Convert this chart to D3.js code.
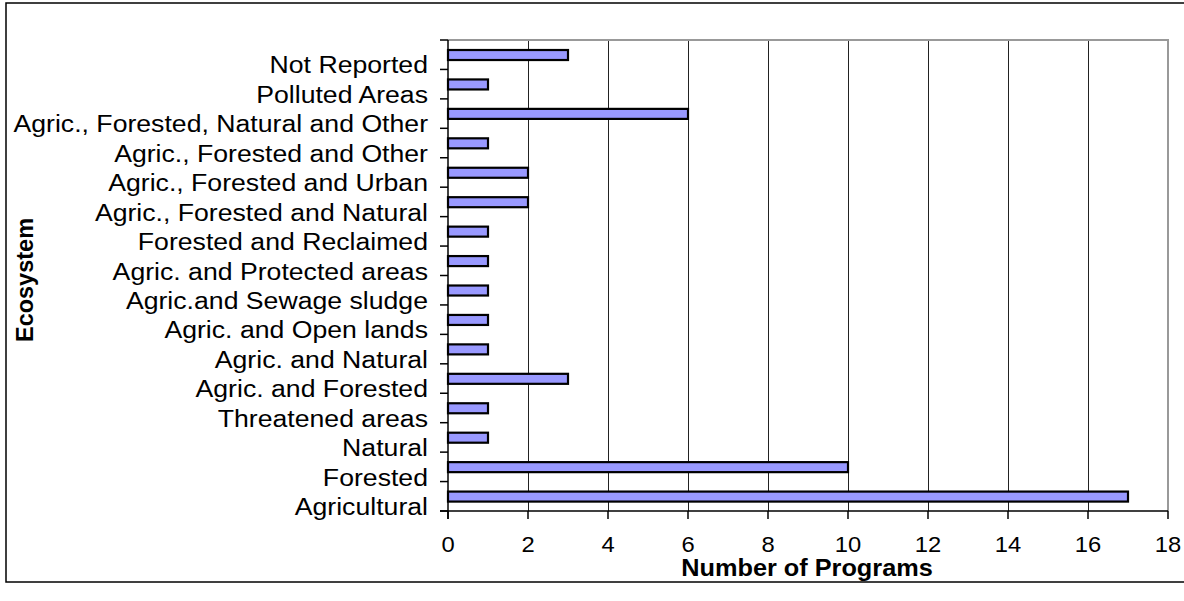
<!DOCTYPE html>
<html>
<head>
<meta charset="utf-8">
<script src="https://cdn.jsdelivr.net/npm/d3@7/dist/d3.min.js"></script>
<style>
  html, body { margin: 0; padding: 0; background: #fff; }
  svg { display: block; font-family: "Liberation Sans", Arial, sans-serif; }
</style>
</head>
<body>
<svg id="chart" width="1184" height="601"></svg>
<script>
const categories = [
  "Not Reported",
  "Polluted Areas",
  "Agric., Forested, Natural and Other",
  "Agric., Forested and Other",
  "Agric., Forested and Urban",
  "Agric., Forested and Natural",
  "Forested and Reclaimed",
  "Agric. and Protected areas",
  "Agric.and Sewage sludge",
  "Agric. and Open lands",
  "Agric. and Natural",
  "Agric. and Forested",
  "Threatened areas",
  "Natural",
  "Forested",
  "Agricultural"
];
const values = [3, 1, 6, 1, 2, 2, 1, 1, 1, 1, 1, 3, 1, 1, 10, 17];
const xTicks = [0, 2, 4, 6, 8, 10, 12, 14, 16, 18];
const xTitle = "Number of Programs";
const yTitle = "Ecosystem";

const svg = d3.select("#chart");
const L = 448, R = 1168, T = 40, B = 511;

// outer frame
svg.append("rect").attr("x", 6).attr("y", 3).attr("width", 1190).attr("height", 579)
  .attr("fill", "#fff").attr("stroke", "#000").attr("stroke-width", 1.5);

const x = d3.scaleLinear().domain([0, 18]).range([L, R]);
const y = d3.scaleBand().domain(categories).range([T, B]).paddingInner(0).paddingOuter(0);

// gridlines
svg.append("g").attr("shape-rendering", "crispEdges")
  .selectAll("line").data(xTicks.filter(d => d > 0 && d < 18)).join("line")
  .attr("x1", d => x(d)).attr("x2", d => x(d)).attr("y1", T).attr("y2", B)
  .attr("stroke", "#222").attr("stroke-width", 1);

// plot frame top & right
svg.append("path").attr("d", `M${L},${T}H${R}V${B}`).attr("fill", "none")
  .attr("stroke", "#999").attr("stroke-width", 2);

// bars
const bw = y.bandwidth();
svg.append("g").selectAll("rect").data(categories).join("rect")
  .attr("x", L)
  .attr("y", (d) => y(d) + bw * 0.34)
  .attr("width", (d, i) => x(values[i]) - L)
  .attr("height", bw * 0.34)
  .attr("fill", "#9999FF").attr("stroke", "#000").attr("stroke-width", 2.2);

// left axis line + ticks
svg.append("line").attr("x1", L).attr("x2", L).attr("y1", T).attr("y2", B + 8)
  .attr("stroke", "#000").attr("stroke-width", 1.5);
const bounds = categories.map(c => y(c)).concat([B]);
svg.append("g").selectAll("line").data(bounds).join("line")
  .attr("x1", L - 8).attr("x2", L).attr("y1", d => d).attr("y2", d => d)
  .attr("stroke", "#000").attr("stroke-width", 1.5);

// bottom axis line + ticks
svg.append("line").attr("x1", L - 8).attr("x2", R).attr("y1", B).attr("y2", B)
  .attr("stroke", "#000").attr("stroke-width", 1.5);
svg.append("g").selectAll("line").data(xTicks).join("line")
  .attr("x1", d => x(d)).attr("x2", d => x(d)).attr("y1", B).attr("y2", B + 8)
  .attr("stroke", "#000").attr("stroke-width", 1.5);

// category labels
svg.append("g").selectAll("text").data(categories).join("text")
  .attr("transform", d => `translate(428,${y(d) + bw + 4}) scale(1.12,1)`)
  .attr("text-anchor", "end").attr("font-size", 23.8).attr("fill", "#000")
  .text(d => d);

// x tick labels
svg.append("g").selectAll("text").data(xTicks).join("text")
  .attr("transform", d => `translate(${x(d)},552) scale(1.08,1)`)
  .attr("text-anchor", "middle").attr("font-size", 22).attr("fill", "#000")
  .text(d => d);

// axis titles
svg.append("text").attr("transform", `translate(807,576) scale(1.1,1)`)
  .attr("text-anchor", "middle").attr("font-size", 23).attr("font-weight", "bold")
  .text(xTitle);
svg.append("text").attr("transform", `translate(33,280) rotate(-90)`)
  .attr("text-anchor", "middle").attr("font-size", 23.5).attr("font-weight", "bold")
  .text(yTitle);
</script>
</body>
</html>
